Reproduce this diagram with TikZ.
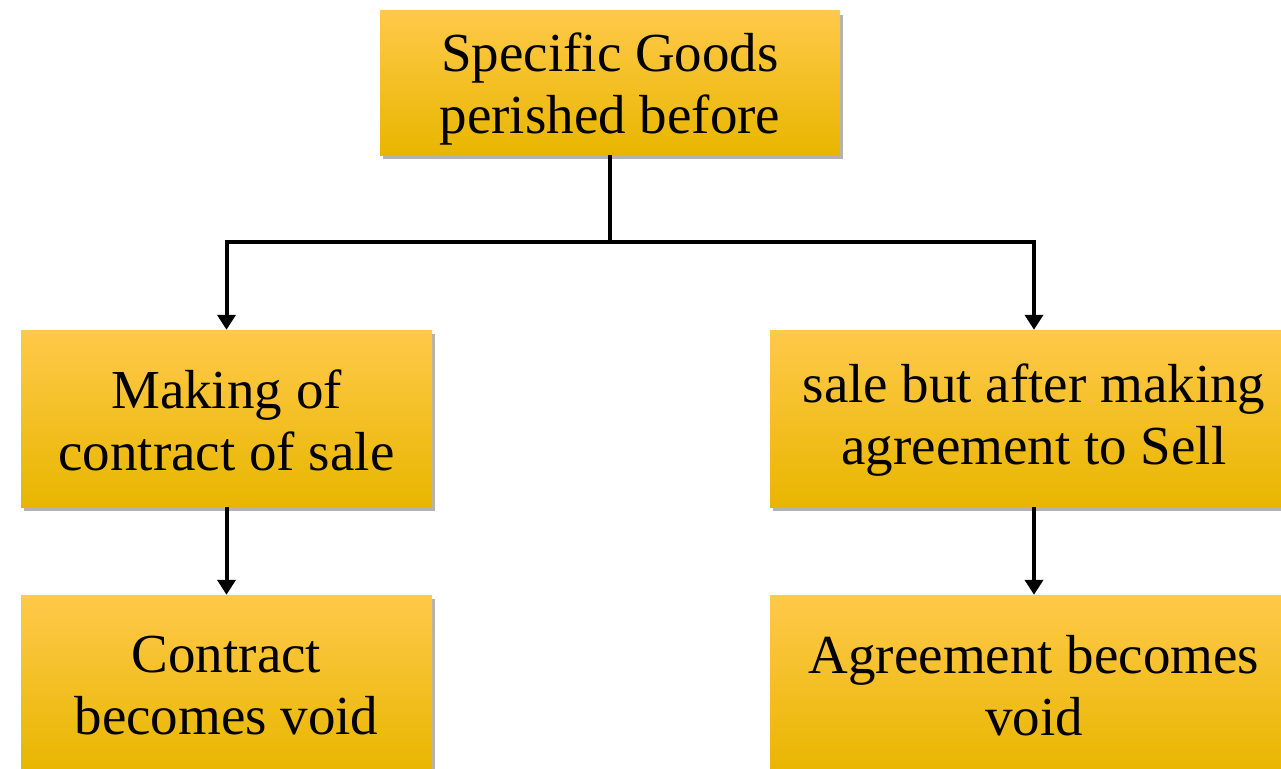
\documentclass[tikz,border=0pt]{standalone}
\usepackage{fontspec}
\setmainfont{Liberation Serif}
\usetikzlibrary{arrows.meta,shadows}
\definecolor{boxtop}{HTML}{FFC94A}
\definecolor{boxmid}{HTML}{FFC400}
\definecolor{boxbot}{HTML}{E8B600}
\tikzset{
  goldbox/.style={rectangle, draw=none, top color=boxtop, middle color=boxmid, bottom color=boxbot,
    drop shadow={shadow xshift=3pt, shadow yshift=-4pt, fill=black, opacity=0.3},
    inner sep=0pt},
  boxtext/.style={align=center, inner sep=0pt, font=\fontsize{55}{62}\selectfont},
  link/.style={line width=4pt, draw=black},
  arrowlink/.style={link, -{Triangle[width=18pt,length=15pt]}}
}
\begin{document}
\begin{tikzpicture}[x=1pt,y=-1pt]
\useasboundingbox (0,0) rectangle (1281,768);
% boxes
\node[goldbox, minimum width=460pt, minimum height=144pt] (top) at (610,83) {};
\node[goldbox, minimum width=411pt, minimum height=177pt] (lm) at (226.5,418.5) {};
\node[goldbox, minimum width=528pt, minimum height=177pt] (rm) at (1034,418.5) {};
\node[goldbox, minimum width=411pt, minimum height=177pt] (lb) at (226.5,683.5) {};
\node[goldbox, minimum width=528pt, minimum height=177pt] (rb) at (1034,683.5) {};
% box texts
\node[boxtext] (topt) at ([yshift=-6pt]top.center) {Specific Goods\\perished before};
\node[boxtext] (lmt) at ([yshift=-2pt]lm.center) {Making of\\contract of sale};
\node[boxtext] (rmt) at ([yshift=-2pt]rm.center) {sale but after making\\agreement to Sell};
\node[boxtext] (lbt) at ([yshift=-2pt]lb.center) {Contract\\becomes void};
\node[boxtext] (rbt) at ([yshift=-2pt]rb.center) {Agreement becomes\\void};
% connectors
\coordinate (j) at (610,242);
\draw[link] (top.south) -- (j);
\draw[arrowlink] (j) -| (lm.north);
\draw[arrowlink] (j) -| (rm.north);
\draw[arrowlink] (lm.south) -- (lb.north);
\draw[arrowlink] (rm.south) -- (rb.north);
\end{tikzpicture}
\end{document}
